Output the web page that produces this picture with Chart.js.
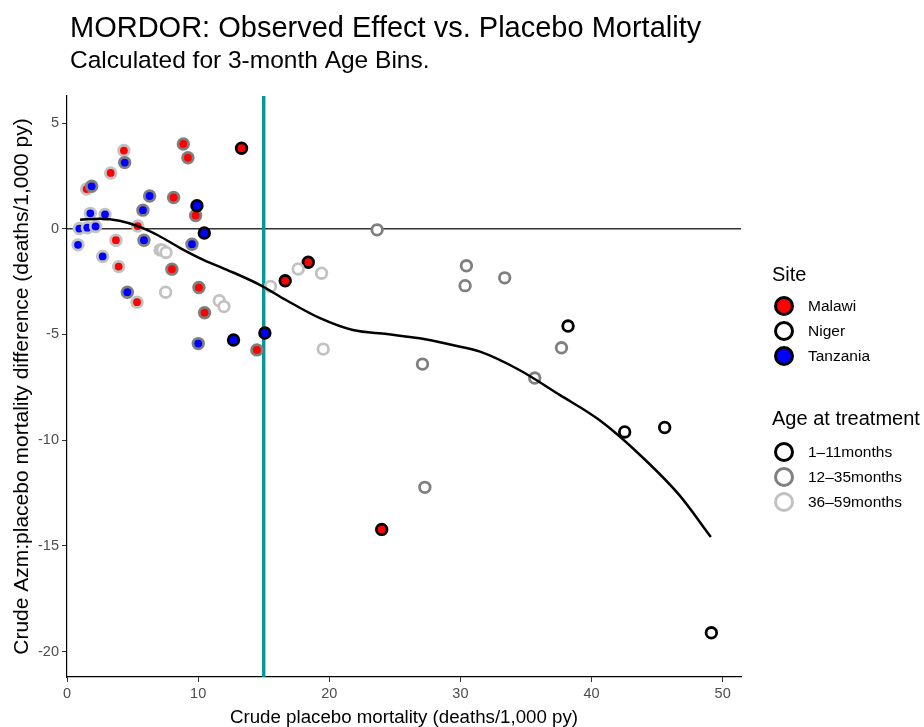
<!DOCTYPE html>
<html>
<head>
<meta charset="utf-8">
<script src="https://cdn.jsdelivr.net/npm/chart.js@4"></script>
<style>
  body { margin: 0; background: #fff; }
  #wrap { width: 924px; height: 727px; position: relative; }
</style>
</head>
<body>
<div id="wrap"><canvas id="myChart"></canvas></div>
<script>
// Malawi (red fill)
const malawiX = [4.34, 8.87, 9.22, 13.31, 3.33, 1.5, 8.13, 9.81, 5.39, 3.73, 3.94, 8.0, 10.06, 5.34, 10.49, 14.48, 18.4, 16.64, 24.0, 7.1];
const malawiY = [3.70, 4.01, 3.36, 3.81, 2.64, 1.88, 1.48, 0.63, 0.13, -0.54, -1.79, -1.91, -2.78, -3.47, -3.97, -5.73, -1.58, -2.46, -14.22, -1.0];
const malawiAge = [3, 2, 2, 1, 3, 3, 2, 2, 3, 3, 3, 2, 2, 3, 2, 2, 1, 1, 1, 3];

// Niger (white fill)
const nigerX = [7.27, 7.55, 7.52, 11.61, 11.97, 15.52, 17.63, 19.41, 19.54, 23.65, 30.46, 30.36, 33.38, 27.11, 35.67, 37.71, 38.21, 42.53, 45.58, 27.29, 49.14];
const nigerY = [-1.0, -1.12, -3.0, -3.40, -3.68, -2.73, -1.90, -2.10, -5.69, -0.05, -1.75, -2.69, -2.32, -6.40, -7.06, -5.63, -4.60, -9.61, -9.40, -12.23, -19.11];
const nigerAge = [3, 3, 3, 3, 3, 3, 3, 3, 3, 2, 2, 2, 2, 2, 2, 2, 1, 1, 1, 2, 1];

// Tanzania (blue fill)
const tanzaniaX = [4.40, 1.88, 6.30, 9.91, 5.79, 1.78, 2.90, 0.94, 1.55, 2.18, 10.47, 0.84, 5.87, 9.53, 2.72, 4.6, 10.01, 12.70, 15.09];
const tanzaniaY = [3.13, 2.01, 1.55, 1.09, 0.88, 0.73, 0.68, 0.01, 0.05, 0.11, -0.20, -0.76, -0.54, -0.73, -1.31, -3.0, -5.43, -5.26, -4.93];
const tanzaniaAge = [2, 2, 2, 1, 2, 3, 3, 3, 3, 3, 1, 3, 2, 2, 3, 2, 2, 1, 1];

// smoothed trend
const smoothX = [1, 2.5, 4, 5.5, 7, 8.6, 10.4, 12.2, 14.7, 16.7, 19.3, 21.8, 24.4, 26.9, 29.4, 31.5, 34.5, 37.6, 40.6, 43.7, 46.7, 49.1];
const smoothY = [0.43, 0.47, 0.38, 0.1, -0.33, -0.9, -1.47, -1.94, -2.65, -3.37, -4.23, -4.79, -4.98, -5.18, -5.5, -5.81, -6.68, -7.87, -9.05, -10.7, -12.6, -14.58];

const xTicks = [0, 10, 20, 30, 40, 50];
const yTicks = [-20, -15, -10, -5, 0, 5];
const cutoffX = 15;

const siteNames = ['Malawi', 'Niger', 'Tanzania'];
const ageNames = ['1\u201311months', '12\u201335months', '36\u201359months'];

const siteFill = ['#ff0000', '#ffffff', '#0000ff'];
const ageBorder = { 1: '#000000', 2: '#7f7f7f', 3: '#c2c2c2' };
const FONT = '"Liberation Sans", Arial, sans-serif';

function pts(xs, ys) {
  return xs.map((x, i) => ({ x: x, y: ys[i] }));
}

function siteSet(label, xs, ys, ages, fill, order) {
  return {
    type: 'scatter',
    label: label,
    data: pts(xs, ys),
    backgroundColor: fill,
    borderColor: ages.map(a => ageBorder[a]),
    pointRadius: 5.3,
    pointBorderWidth: 2.8,
    order: order
  };
}

const refLines = {
  id: 'refLines',
  beforeDatasetsDraw(chart) {
    const { ctx, chartArea: a, scales: { x, y } } = chart;
    ctx.save();
    const y0 = y.getPixelForValue(0);
    ctx.strokeStyle = '#333333';
    ctx.lineWidth = 1.5;
    ctx.beginPath();
    ctx.moveTo(a.left, y0);
    ctx.lineTo(a.right, y0);
    ctx.stroke();
    const xc = x.getPixelForValue(cutoffX);
    ctx.strokeStyle = '#0a9696';
    ctx.lineWidth = 3.5;
    ctx.beginPath();
    ctx.moveTo(xc, a.top);
    ctx.lineTo(xc, a.bottom);
    ctx.stroke();
    ctx.restore();
  }
};

const titles = {
  id: 'titles',
  afterDraw(chart) {
    const ctx = chart.ctx;
    ctx.save();
    ctx.fillStyle = '#000';
    ctx.textBaseline = 'alphabetic';
    ctx.textAlign = 'left';
    ctx.font = '29px ' + FONT;
    ctx.fillText('MORDOR: Observed Effect vs. Placebo Mortality', 70, 37);
    ctx.font = '24.5px ' + FONT;
    ctx.fillText('Calculated for 3-month Age Bins.', 70, 68);

    // legend
    const lx = 784;
    ctx.font = '20px ' + FONT;
    ctx.textBaseline = 'middle';
    ctx.fillText('Site', 772, 275);
    ctx.font = '15.5px ' + FONT;
    siteNames.forEach((s, i) => {
      const cy = 306 + i * 25;
      ctx.beginPath();
      ctx.arc(lx, cy, 8.5, 0, Math.PI * 2);
      ctx.fillStyle = siteFill[i];
      ctx.fill();
      ctx.lineWidth = 3;
      ctx.strokeStyle = '#000';
      ctx.stroke();
      ctx.fillStyle = '#000';
      ctx.fillText(s, 808, cy + 1);
    });
    ctx.font = '20px ' + FONT;
    ctx.fillText('Age at treatment', 772, 419);
    ctx.font = '15.5px ' + FONT;
    ageNames.forEach((s, i) => {
      const cy = 452 + i * 25;
      ctx.beginPath();
      ctx.arc(lx, cy, 8.5, 0, Math.PI * 2);
      ctx.fillStyle = '#fff';
      ctx.fill();
      ctx.lineWidth = 3;
      ctx.strokeStyle = ageBorder[i + 1];
      ctx.stroke();
      ctx.fillStyle = '#000';
      ctx.fillText(s, 808, cy + 1);
    });
    ctx.restore();
  }
};

document.addEventListener('DOMContentLoaded', function () {
  const ctx = document.getElementById('myChart');

  new Chart(ctx, {
    type: 'scatter',
    data: {
      datasets: [
        {
          type: 'line',
          label: 'smooth',
          data: pts(smoothX, smoothY),
          borderColor: '#000',
          borderWidth: 2.5,
          pointRadius: 0,
          fill: false,
          cubicInterpolationMode: 'monotone',
          order: 0
        },
        siteSet('Tanzania', tanzaniaX, tanzaniaY, tanzaniaAge, siteFill[2], 1),
        siteSet('Niger', nigerX, nigerY, nigerAge, siteFill[1], 2),
        siteSet('Malawi', malawiX, malawiY, malawiAge, siteFill[0], 3)
      ]
    },
    options: {
      responsive: true,
      maintainAspectRatio: false,
      animation: false,
      events: [],
      layout: { padding: { top: 96, right: 183, bottom: 0, left: 0 } },
      plugins: {
        legend: { display: false },
        tooltip: { enabled: false },
        title: { display: false }
      },
      scales: {
        x: {
          type: 'linear',
          min: 0,
          max: 51.4,
          afterFit: s => { s.height = 50; },
          afterBuildTicks: s => { s.ticks = xTicks.map(v => ({ value: v })); },
          grid: { drawOnChartArea: false, drawTicks: true, tickLength: 5, color: '#333' },
          border: { color: '#000', width: 1.2 },
          ticks: { color: '#4d4d4d', font: { family: FONT, size: 14.5 }, padding: 3 },
          title: {
            display: true,
            text: 'Crude placebo mortality (deaths/1,000 py)',
            color: '#000',
            font: { family: FONT, size: 18.7, lineHeight: 1 },
            padding: { top: 0, bottom: 0 }
          }
        },
        y: {
          type: 'linear',
          min: -21.2,
          max: 6.28,
          afterFit: s => { s.width = 67; },
          afterBuildTicks: s => { s.ticks = yTicks.map(v => ({ value: v })); },
          grid: { drawOnChartArea: false, drawTicks: true, tickLength: 5, color: '#333' },
          border: { color: '#000', width: 1.2 },
          ticks: { color: '#4d4d4d', font: { family: FONT, size: 14.5 }, padding: 3 },
          title: {
            display: true,
            text: 'Crude Azm:placebo mortality difference (deaths/1,000 py)',
            color: '#000',
            font: { family: FONT, size: 21, lineHeight: 1 },
            padding: { top: 12, bottom: 0 }
          }
        }
      }
    },
    plugins: [refLines, titles]
  });
});
</script>
</body>
</html>
